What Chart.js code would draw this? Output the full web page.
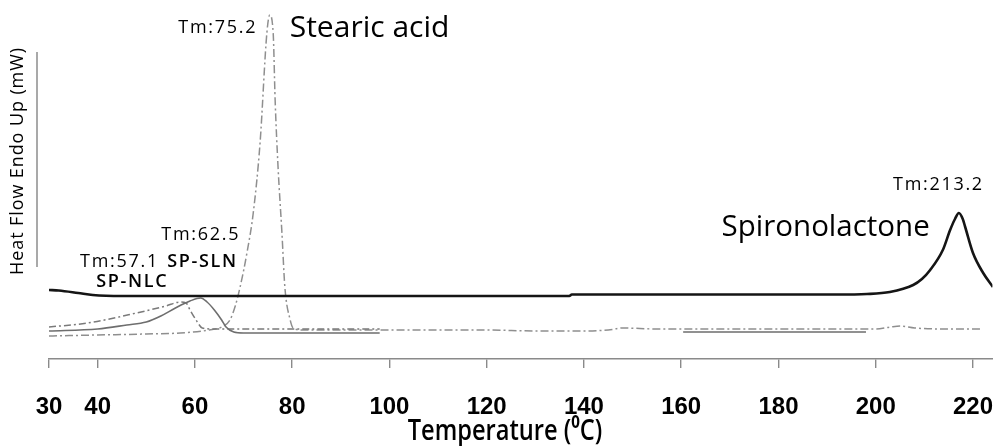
<!DOCTYPE html>
<html><head><meta charset="utf-8">
<script src="https://cdn.jsdelivr.net/npm/chart.js@4.4.1/dist/chart.umd.min.js"></script>
<style>html,body{margin:0;padding:0;background:#fff}#wrap{width:993px;height:446px;position:relative}</style>
</head><body><div id="wrap"><canvas id="c"></canvas></div>
<script>
// ---- data (temperature in °C, heat flow in arbitrary mW units) ----
const xTickValues = [30, 40, 60, 80, 100, 120, 140, 160, 180, 200, 220];

const spironoTemp = [30, 32, 36, 39, 45, 60, 80, 100, 120, 137, 137.5, 160, 180, 192, 198.2, 202.9, 207.7, 209.5, 211.2, 213.8, 215.3, 216.3, 217.1, 217.9, 218.4, 220.0, 222.1, 224.1];
const spironoHeat = [6.9, 6.85, 6.6, 6.4, 6.3, 6.3, 6.3, 6.3, 6.3, 6.3, 6.45, 6.45, 6.45, 6.45, 6.5, 6.7, 7.4, 8.0, 8.9, 10.9, 12.9, 14.0, 14.6, 14.0, 13.2, 10.6, 8.6, 7.2];

const stearicTemp = [30, 40, 50, 57, 63, 65.5, 67.2, 68.3, 69.3, 70.7, 72.0, 73.4, 74.8, 75.4, 76.1, 76.5, 77.1, 77.9, 78.5, 79.6, 80.2, 82, 100, 120, 130, 140, 145, 148, 155, 170, 190, 200, 203, 205, 208, 215, 222];
const stearicHeat = [2.3, 2.4, 2.5, 2.6, 2.9, 3.2, 3.9, 5.3, 7.2, 10.6, 14.6, 21.6, 32.6, 34.4, 32.6, 25.9, 19.2, 12.6, 7.2, 3.9, 3.1, 2.9, 2.9, 2.9, 2.8, 2.8, 2.9, 3.1, 3.0, 3.0, 3.0, 3.0, 3.2, 3.3, 3.1, 3.0, 3.0];

const slnTemp = [30, 40, 46, 50, 53, 56, 59, 61.2, 62.5, 64, 65.5, 66.4, 68, 70, 80, 98, 130, 160.4, 198];
const slnHeat = [2.8, 3.0, 3.4, 3.7, 4.3, 5.1, 5.8, 6.1, 5.7, 4.9, 3.9, 3.2, 2.7, 2.6, 2.6, 2.6, null, 2.7, 2.7];

const nlcTemp = [30, 38, 48, 54, 57, 58.2, 59, 60.5, 61.5, 64, 70, 80, 98];
const nlcHeat = [3.2, 3.6, 4.6, 5.3, 5.7, 5.6, 4.9, 3.7, 3.1, 3.0, 3.0, 3.0, 3.0];

const pts = (xs, ys) => xs.map((x, i) => ({x, y: ys[i]}));

// ---- text annotations placed in data coordinates ----
const notes = [
  {text: 'Tm:75.2', x: 72.8, y: 32.6, align: 'right', font: '18px "Open Sans"', ls: 1.7},
  {text: 'Stearic acid', x: 79.5, y: 32.2, align: 'left', font: '30px "Open Sans"', ls: 0},
  {text: 'Tm:213.2', x: 212.9, y: 16.9, align: 'center', font: '18px "Open Sans"', ls: 1.7},
  {text: 'Spironolactone', x: 168.3, y: 12.3, align: 'left', font: '29.5px "Open Sans"', ls: 0},
  {text: 'Tm:62.5', x: 69.3, y: 11.9, align: 'right', font: '18px "Open Sans"', ls: 1.7},
  {text: 'Tm:57.1', x: 36.4, y: 9.2, align: 'left', font: '18px "Open Sans"', ls: 1.7},
  {text: 'SP-SLN', x: 54.3, y: 9.2, align: 'left', font: '600 18px "Open Sans"', ls: 1.7},
  {text: 'SP-NLC', x: 39.7, y: 7.2, align: 'left', font: '600 18px "Open Sans"', ls: 1.7}
];
const yTitle = 'Heat Flow Endo Up (mW)';
const xTitle = 'Temperature (⁰C)';

const decor = {
  id: 'decor',
  afterDatasetsDraw(chart) {
    const {ctx, scales: {x, y}} = chart;
    ctx.save();
    ctx.fillStyle = '#000';
    ctx.textBaseline = 'alphabetic';
    for (const n of notes) {
      ctx.font = n.font;
      ctx.letterSpacing = n.ls + 'px';
      ctx.textAlign = n.align;
      ctx.fillText(n.text, x.getPixelForValue(n.x), y.getPixelForValue(n.y));
    }
    ctx.letterSpacing = '0px';
    // x axis title (condensed look)
    ctx.save();
    ctx.translate(505, 440);
    ctx.scale(0.815, 1);
    ctx.font = '600 29px "Open Sans"';
    ctx.textAlign = 'center';
    ctx.textBaseline = 'alphabetic';
    ctx.fillText(xTitle, 0, 0);
    ctx.restore();
    // y axis title
    ctx.save();
    ctx.translate(18, 161);
    ctx.rotate(-Math.PI / 2);
    ctx.font = '18px "Open Sans"';
    ctx.letterSpacing = '0.9px';
    ctx.textAlign = 'center';
    ctx.textBaseline = 'middle';
    ctx.fillText(yTitle, 0, 0);
    ctx.restore();
    // vertical scale bar
    ctx.strokeStyle = '#8c8c8c';
    ctx.lineWidth = 1.5;
    ctx.beginPath();
    ctx.moveTo(37, 52);
    ctx.lineTo(37, 267);
    ctx.stroke();
    ctx.restore();
  }
};

new Chart(document.getElementById('c'), {
  type: 'line',
  data: {
    datasets: [
      {label: 'Spironolactone', data: pts(spironoTemp, spironoHeat), borderColor: '#151515', borderWidth: 2.6, order: 0},
      {label: 'SP-SLN', data: pts(slnTemp, slnHeat), borderColor: '#6e6e6e', borderWidth: 1.6, order: 1},
      {label: 'SP-NLC', data: pts(nlcTemp, nlcHeat), borderColor: '#7a7a7a', borderWidth: 1.5, borderDash: [7, 3, 2, 3], order: 2},
      {label: 'Stearic acid', data: pts(stearicTemp, stearicHeat), borderColor: '#8f8f8f', borderWidth: 1.5, borderDash: [8, 3, 2, 3], order: 3}
    ]
  },
  options: {
    responsive: true,
    maintainAspectRatio: false,
    animation: false,
    devicePixelRatio: 1,
    spanGaps: false,
    elements: {point: {radius: 0}, line: {cubicInterpolationMode: 'monotone', fill: false}},
    layout: {padding: {left: 49, right: 0, top: 0, bottom: 0}},
    plugins: {legend: {display: false}, tooltip: {enabled: false}},
    scales: {
      x: {
        type: 'linear',
        min: 30, max: 224,
        afterBuildTicks: (s) => { s.ticks = xTickValues.map(v => ({value: v})); },
        border: {display: true, color: '#8a8a8a', width: 1.6},
        grid: {display: true, drawOnChartArea: false, drawTicks: true, tickLength: 9, color: '#8a8a8a', lineWidth: 1.4},
        ticks: {
          padding: 0, maxRotation: 0, autoSkip: false, color: '#000',
          font: {family: '"Liberation Sans", Arial, sans-serif', weight: 'bold', size: 24, lineHeight: 3.25}
        },
        title: {display: false}
      },
      y: {display: false, min: 0, max: 35.9}
    }
  },
  plugins: [decor]
});
</script>
</body></html>
